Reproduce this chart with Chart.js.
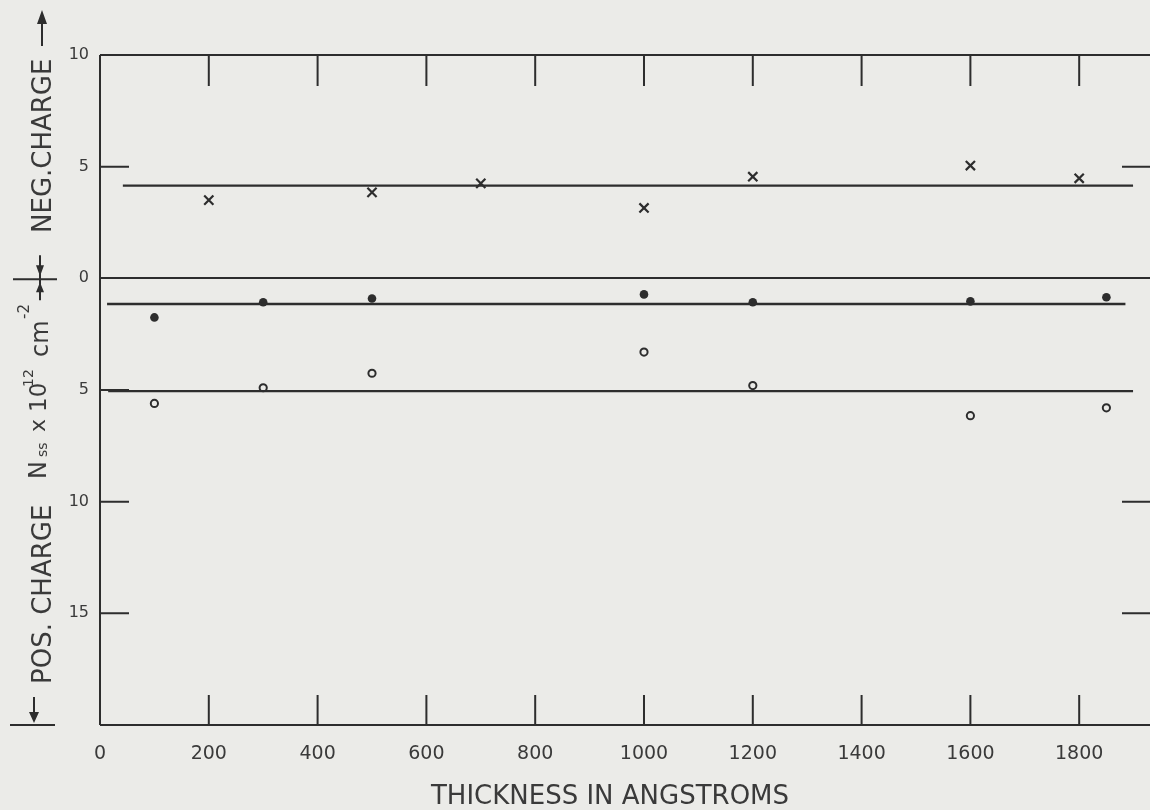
<!DOCTYPE html>
<html>
<head>
    <script src="https://cdn.jsdelivr.net/npm/chart.js@4"></script>
    <style>
        html, body {
            margin: 0;
            padding: 0;
            background: #ebebe8;
            overflow: hidden;
        }
        #wrap {
            width: 1160px;
            height: 810px;
        }
        #myChart {
            filter: blur(0.45px);
        }
    </style>
</head>
<body>
<div id="wrap">
    <canvas id="myChart" width="1160" height="810"></canvas>
</div>

<script>
    // thickness (angstroms) and surface state charge Nss (x 10^12 cm^-2, negative charge is +)
    const thickCross = [200, 500, 700, 1000, 1200, 1600, 1800];
    const negCharge = [3.5, 3.85, 4.25, 3.15, 4.55, 5.05, 4.48];

    const thickFilled = [100, 300, 500, 1000, 1200, 1600, 1850];
    const filledCharge = [-1.75, -1.07, -0.9, -0.72, -1.07, -1.03, -0.85];

    const thickOpen = [100, 300, 500, 1000, 1200, 1600, 1850];
    const openCharge = [-5.6, -4.9, -4.25, -3.3, -4.8, -6.15, -5.8];

    // average levels drawn across the plot
    const fitLevels = [4.15, -1.15, -5.05];
    const fitStarts = [42, 13, 15];
    const fitEnds = [1899, 1885, 1899];

    // axis ticks
    const xTicks = [0, 200, 400, 600, 800, 1000, 1200, 1400, 1600, 1800];
    const yTicks = [10, 5, 0, -5, -10, -15];
    const leftInnerTicks = [5, -5, -10, -15];
    const rightInnerTicks = [5, -10, -15];
    const innerXTicks = [200, 400, 600, 800, 1000, 1200, 1400, 1600, 1800];

    const INK = '#2d2d2d';
    const TEXT = '#3a3a3a';
    const FONT = '"DejaVu Sans", sans-serif';

    function pairs(xs, ys) {
        return xs.map((x, i) => ({x: x, y: ys[i]}));
    }

    const fitSets = fitLevels.map((lvl, i) => ({
        type: 'line',
        data: [{x: fitStarts[i], y: lvl}, {x: fitEnds[i], y: lvl}],
        borderColor: INK,
        borderWidth: 2.4,
        pointRadius: 0,
        fill: false
    }));

    // frame, inward tick marks and the hand-lettered axis titles
    const framePlugin = {
        id: 'frame',
        afterDraw(chart) {
            const ctx = chart.ctx;
            const xs = chart.scales.x;
            const ys = chart.scales.y;
            const a = chart.chartArea;
            ctx.save();
            ctx.strokeStyle = INK;
            ctx.lineWidth = 2;
            ctx.beginPath();
            ctx.moveTo(a.left, a.top);
            ctx.lineTo(chart.width, a.top);
            ctx.moveTo(a.left, a.top);
            ctx.lineTo(a.left, a.bottom);
            ctx.moveTo(a.left, a.bottom);
            ctx.lineTo(chart.width, a.bottom);
            ctx.stroke();

            ctx.beginPath();
            innerXTicks.forEach(v => {
                const px = xs.getPixelForValue(v);
                ctx.moveTo(px, a.top);
                ctx.lineTo(px, a.top + 31);
                ctx.moveTo(px, a.bottom);
                ctx.lineTo(px, a.bottom - 30);
            });
            leftInnerTicks.forEach(v => {
                const py = ys.getPixelForValue(v);
                ctx.moveTo(a.left, py);
                ctx.lineTo(a.left + 29, py);
            });
            rightInnerTicks.forEach(v => {
                const py = ys.getPixelForValue(v);
                ctx.moveTo(a.right, py);
                ctx.lineTo(a.right - 29, py);
            });
            ctx.stroke();

            // x title
            ctx.fillStyle = TEXT;
            ctx.font = '26px ' + FONT;
            ctx.textAlign = 'center';
            ctx.textBaseline = 'alphabetic';
            ctx.fillText('THICKNESS IN ANGSTROMS', 610, 804);

            // y title, written bottom to top
            function vtext(txt, bx, by, size) {
                ctx.save();
                ctx.translate(bx, by);
                ctx.rotate(-Math.PI / 2);
                ctx.font = size + 'px ' + FONT;
                ctx.textAlign = 'left';
                ctx.textBaseline = 'alphabetic';
                ctx.fillText(txt, 0, 0);
                ctx.restore();
            }
            vtext('POS. CHARGE', 51, 684, 26);
            vtext('NEG.CHARGE', 51, 233, 26);

            vtext('N', 46, 479, 24);
            vtext('ss', 47, 457, 14);
            vtext('x', 45, 432, 22);
            vtext('10', 46, 412, 23);
            vtext('12', 33, 387, 14);
            vtext('cm', 48, 357, 24);
            vtext('-2', 29, 319, 15);

            const zero = ys.getPixelForValue(0);
            const bottom = a.bottom;
            ctx.lineWidth = 2;
            ctx.beginPath();
            // up arrow after NEG.CHARGE
            ctx.moveTo(42, 46);
            ctx.lineTo(42, 18);
            // marker at the zero level
            ctx.moveTo(40, zero - 23);
            ctx.lineTo(40, zero + 22);
            ctx.moveTo(13, zero + 1);
            ctx.lineTo(57, zero + 1);
            // down arrow before POS.CHARGE
            ctx.moveTo(34, 697);
            ctx.lineTo(34, bottom - 8);
            ctx.moveTo(10, bottom);
            ctx.lineTo(55, bottom);
            ctx.stroke();

            ctx.fillStyle = INK;
            ctx.beginPath();
            ctx.moveTo(42, 10);
            ctx.lineTo(37, 24);
            ctx.lineTo(47, 24);
            ctx.closePath();
            ctx.moveTo(34, bottom - 2);
            ctx.lineTo(29, bottom - 13);
            ctx.lineTo(39, bottom - 13);
            ctx.closePath();
            ctx.moveTo(40, zero - 2);
            ctx.lineTo(36, zero - 13);
            ctx.lineTo(44, zero - 13);
            ctx.closePath();
            ctx.moveTo(40, zero + 4);
            ctx.lineTo(36, zero + 14);
            ctx.lineTo(44, zero + 14);
            ctx.closePath();
            ctx.fill();
            ctx.restore();
        }
    };

    const ctx = document.getElementById('myChart').getContext('2d');
    const myChart = new Chart(ctx, {
        type: 'scatter',
        data: {
            datasets: fitSets.concat([
                {
                    label: 'negative',
                    data: pairs(thickCross, negCharge),
                    pointStyle: 'crossRot',
                    pointRadius: 6.5,
                    borderWidth: 2.2,
                    borderColor: INK
                },
                {
                    label: 'filled',
                    data: pairs(thickFilled, filledCharge),
                    pointStyle: 'circle',
                    pointRadius: 4.3,
                    borderWidth: 0,
                    backgroundColor: INK
                },
                {
                    label: 'open',
                    data: pairs(thickOpen, openCharge),
                    pointStyle: 'circle',
                    pointRadius: 3.6,
                    borderWidth: 2,
                    borderColor: INK,
                    backgroundColor: 'rgba(0,0,0,0)'
                }
            ])
        },
        options: {
            responsive: false,
            animation: false,
            devicePixelRatio: 1,
            layout: {padding: {top: 55, right: 9, left: 0, bottom: 0}},
            plugins: {
                legend: {display: false},
                tooltip: {enabled: false}
            },
            scales: {
                x: {
                    type: 'linear',
                    min: 0,
                    max: 1932,
                    border: {display: false},
                    grid: {display: false},
                    afterBuildTicks: s => { s.ticks = xTicks.map(v => ({value: v})); },
                    afterFit: s => { s.height = 85; },
                    ticks: {
                        color: TEXT,
                        font: {family: FONT, size: 19},
                        padding: 10,
                        maxRotation: 0,
                        callback: v => String(v)
                    }
                },
                y: {
                    min: -20,
                    max: 10,
                    border: {display: false},
                    grid: {
                        drawTicks: false,
                        lineWidth: 2,
                        color: c => (c.tick && c.tick.value === 0) ? INK : 'rgba(0,0,0,0)'
                    },
                    afterBuildTicks: s => { s.ticks = yTicks.map(v => ({value: v})); },
                    afterFit: s => { s.width = 100; },
                    ticks: {
                        color: TEXT,
                        font: {family: FONT, size: 16},
                        padding: 11,
                        callback: v => String(Math.abs(v))
                    }
                }
            }
        },
        plugins: [framePlugin]
    });
</script>
</body>
</html>
